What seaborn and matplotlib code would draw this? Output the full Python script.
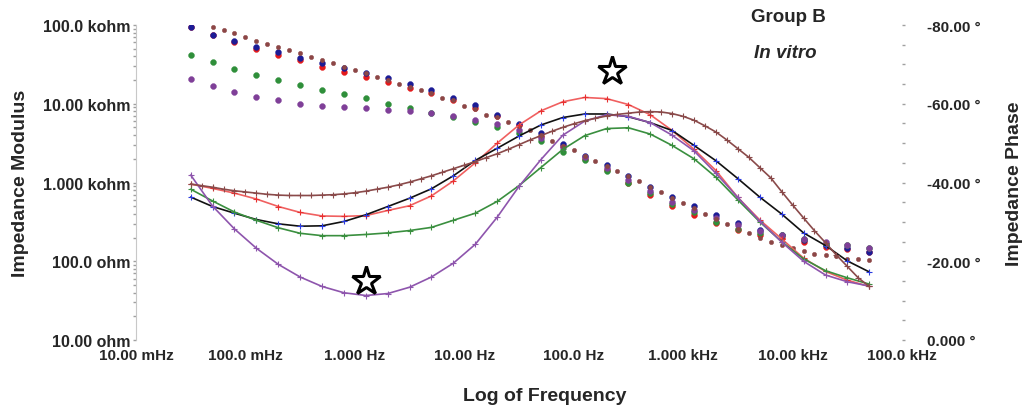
import numpy as np
import matplotlib
matplotlib.use('Agg')
import matplotlib.pyplot as plt
from matplotlib.ticker import FixedLocator, LogLocator, MultipleLocator, NullFormatter
import seaborn as sns

# Frequencies (Hz), 5 points per decade
freq = [0.0316, 0.0501, 0.0794, 0.126, 0.2, 0.316, 0.501, 0.794, 1.26, 2.0,
        3.16, 5.01, 7.94, 12.6, 20.0, 31.6, 50.1, 79.4, 126, 200,
        316, 501, 794, 1260, 2000, 3160, 5010, 7940, 12600, 20000,
        31600, 50100]
# brown sample was swept at 10 points per decade
freq_fine = [0.0316, 0.0398, 0.0501, 0.0631, 0.0794,
             0.1, 0.126, 0.158, 0.2, 0.251, 0.316, 0.398, 0.501, 0.631, 0.794,
             1.0, 1.26, 1.58, 2.0, 2.51, 3.16, 3.98, 5.01, 6.31, 7.94,
             10, 12.6, 15.8, 20, 25.1, 31.6, 39.8, 50.1, 63.1, 79.4,
             100, 126, 158, 200, 251, 316, 398, 501, 631, 794,
             1000, 1260, 1580, 2000, 2510, 3160, 3980, 5010, 6310, 7940,
             10000, 12600, 15800, 20000, 25100, 31600, 39800, 50100]

# Impedance modulus (ohm)
mod_red = [95000, 75000, 61000, 49000, 41000, 35500, 29000, 25000, 21600, 18700,
           15900, 13500, 11000, 8900, 7000, 5300, 3900, 2900, 2000, 1450,
           980, 690, 510, 390, 303, 250, 215, 195, 174, 153, 142, 132]
mod_blue = [93000, 75000, 62000, 52000, 45000, 38000, 33000, 28500, 24400, 21000,
            17800, 14900, 12000, 9600, 7300, 5600, 4200, 3100, 2200, 1660,
            1200, 870, 660, 500, 390, 310, 250, 215, 186, 160, 146, 132]
mod_green = [42000, 34000, 27700, 23400, 19900, 17100, 15100, 13300, 11700, 10000,
             8900, 7600, 6700, 5900, 5000, 4300, 3400, 2460, 1910, 1380,
             980, 735, 530, 420, 317, 260, 231, 215, 191, 168, 160, 149]
mod_purple = [20500, 16600, 13900, 12300, 11000, 10000, 9400, 9100, 8800, 8300,
              8000, 7600, 7000, 6300, 5500, 4700, 3700, 2800, 2100, 1550,
              1070, 780, 565, 445, 350, 290, 245, 213, 190, 174, 159, 146]
mod_brown = [np.nan, np.nan, 95000, 87000, 79000, 70000, 63500, 57500, 52000, 47500,
             44000, 39000, 35500, 32600, 28900, 26800, 24600, 22100, 20000, 17800,
             16200, 14900, 13500, 11700, 11000, 9400, 8500, 7300, 6800, 5900,
             5200, 4600, 4000, 3400, 2950, 2560, 2200, 1900, 1630, 1410,
             1220, 1040, 875, 755, 635, 550, 470, 395, 340, 295,
             260, 226, 200, 177, 159, 146, 135, 125, 120, 115,
             108, 107, 103]

# Impedance phase (deg)
phase_red = [-39.6, -38.5, -37.3, -35.8, -33.9, -32.4, -31.5, -31.4, -31.6, -32.9,
             -34.1, -36.6, -40.4, -45.0, -50.0, -54.6, -58.2, -60.5, -61.6, -61.3,
             -59.8, -57.2, -53.2, -48.4, -43.0, -36.2, -30.5, -25.7, -20.8, -17.4,
             -15.2, -13.6]
phase_blue = [-36.3, -33.9, -32.2, -30.6, -29.5, -28.9, -29.0, -30.1, -31.8, -33.9,
              -36.0, -38.4, -41.7, -45.6, -48.7, -51.8, -54.6, -56.5, -57.4, -57.4,
              -56.7, -55.2, -53.2, -49.4, -45.5, -41.0, -36.3, -32.0, -27.2, -24.0,
              -20.1, -17.3]
phase_green = [-38.3, -35.3, -32.5, -30.4, -28.5, -27.1, -26.5, -26.5, -26.8, -27.2,
               -27.8, -28.6, -30.4, -32.2, -35.2, -39.2, -43.8, -48.4, -51.9, -53.7,
               -53.9, -52.3, -49.4, -46.0, -41.3, -35.6, -30.0, -25.0, -20.6, -17.6,
               -15.8, -14.2]
phase_purple = [-41.9, -34.0, -28.2, -23.3, -19.2, -16.0, -13.6, -12.0, -11.3, -11.8,
                -13.4, -16.0, -19.5, -24.3, -31.2, -39.0, -45.8, -52.0, -55.6, -57.2,
                -56.8, -55.2, -52.0, -48.0, -42.3, -36.2, -30.2, -24.9, -20.0, -16.5,
                -14.8, -13.7]
phase_brown = [-39.6, -39.2, -38.8, -38.3, -37.9, -37.6, -37.3, -37.0, -36.8, -36.7,
               -36.7, -36.7, -36.8, -36.9, -37.1, -37.4, -37.8, -38.3, -38.8, -39.4,
               -40.1, -40.9, -41.7, -42.6, -43.5, -44.4, -45.3, -46.3, -47.3, -48.4,
               -49.6, -50.8, -51.9, -53.0, -54.0, -54.9, -55.7, -56.3, -56.9, -57.3,
               -57.6, -57.9, -58.0, -57.9, -57.5, -56.8, -55.8, -54.4, -52.8, -50.8,
               -48.6, -46.4, -43.8, -41.2, -37.7, -34.3, -31.0, -27.8, -24.7, -21.6,
               -18.7, -15.8, -13.6]

# star annotations (freq Hz, phase deg)
star_freq = [222, 1.26]
star_phase = [-68.4, -15.1]

x_ticks = [0.01, 0.1, 1, 10, 100, 1e3, 1e4, 1e5]
x_tick_labels = ['10.00 mHz', '100.0 mHz', '1.000 Hz', '10.00 Hz', '100.0 Hz',
                 '1.000 kHz', '10.00 kHz', '100.0 kHz']
mod_ticks = [10, 100, 1e3, 1e4, 1e5]
mod_tick_labels = ['10.00 ohm', '100.0 ohm', '1.000 kohm', '10.00 kohm', '100.0 kohm']
phase_ticks = [0, -20, -40, -60, -80]
phase_tick_labels = ['0.000 °', '-20.00 °', '-40.00 °', '-60.00 °', '-80.00 °']

# (freq, modulus, phase, dot colour, line colour, line marker colour)
series = [
    (freq, mod_red, phase_red, '#e31a1c', '#f06060', '#e83030'),
    (freq, mod_blue, phase_blue, '#1c1c96', '#111111', '#2b3be0'),
    (freq, mod_green, phase_green, '#2f8f3a', '#3a8f3f', '#3a8f3f'),
    (freq, mod_purple, phase_purple, '#7f3f98', '#8e55ad', '#8e55ad'),
    (freq_fine, mod_brown, phase_brown, '#8c4646', '#8a4a4a', '#8a4a4a'),
]

sns.set_style('white')
plt.rcParams['font.family'] = ['Liberation Sans', 'DejaVu Sans']
plt.rcParams['font.weight'] = 'bold'

fig = plt.figure(figsize=(10.24, 4.10), dpi=100)
ax = fig.add_axes([136 / 1024, 69 / 410, 766 / 1024, 315 / 410])
ax.set_xscale('log')
ax.set_yscale('log')
ax.set_xlim(1e-2, 1e5)
ax.set_ylim(10, 1e5)
ax2 = ax.twinx()
ax2.set_ylim(0, -80)

for f, mod, ph, dot_c, line_c, mark_c in series:
    size = 10 if f is freq_fine else 18
    sns.scatterplot(x=f, y=mod, ax=ax, color=dot_c, s=size, edgecolor=dot_c,
                    linewidth=0.3, zorder=3)
    sns.lineplot(x=f, y=ph, ax=ax2, color=line_c, linewidth=1.2, marker='+',
                 markersize=4, markeredgecolor=mark_c, markeredgewidth=0.8,
                 estimator=None, sort=False)

ax2.plot(star_freq, star_phase, ls='none', marker='*', ms=21, mfc='white',
         mec='black', mew=2.2, clip_on=False, zorder=5)

# x axis
ax.xaxis.set_major_locator(FixedLocator(x_ticks))
ax.set_xticklabels(x_tick_labels)
ax.xaxis.set_minor_locator(LogLocator(base=10, subs=np.arange(2, 10), numticks=20))
ax.xaxis.set_minor_formatter(NullFormatter())
ax.tick_params(axis='x', which='major', length=0, pad=6, labelsize=11)
ax.tick_params(axis='x', which='minor', length=2, width=1, color='#a0a0a0')

# left axis
ax.yaxis.set_major_locator(FixedLocator(mod_ticks))
ax.set_yticklabels(mod_tick_labels)
ax.yaxis.set_minor_locator(LogLocator(base=10, subs=np.arange(2, 10), numticks=20))
ax.yaxis.set_minor_formatter(NullFormatter())
ax.tick_params(axis='y', which='both', length=2, width=1, color='#a0a0a0')
ax.tick_params(axis='y', which='major', pad=2, labelsize=11.5)

# right axis
ax2.set_yticks(phase_ticks)
ax2.set_yticklabels(phase_tick_labels)
ax2.yaxis.set_minor_locator(MultipleLocator(5))
ax2.tick_params(axis='y', which='both', length=2, width=1, color='#a0a0a0')
ax2.tick_params(axis='y', which='major', pad=16, labelsize=11)

for name, sp in ax.spines.items():
    sp.set_visible(name == 'left')
ax.spines['left'].set_color('#c8c8c8')
for sp in ax2.spines.values():
    sp.set_visible(False)

ax.set_xlabel('')
ax.set_ylabel('Impedance Modulus', fontsize=14, fontweight='bold')
ax.yaxis.set_label_coords(-0.140, 0.5)
ax2.set_ylabel('Impedance Phase', fontsize=14, fontweight='bold')
ax2.yaxis.set_label_coords(1.136, 0.5)

fig.text(545 / 1024, 1 - 397 / 410, 'Log of Frequency', ha='center', va='center',
         fontsize=14, fontweight='bold')
fig.text(788 / 1024, 1 - 18 / 410, 'Group B', ha='center', va='center',
         fontsize=13.5, fontweight='bold')
fig.text(785 / 1024, 1 - 53 / 410, 'In vitro', ha='center', va='center',
         fontsize=13.5, fontweight='bold', style='italic')

fig.savefig('out.png', dpi=100)
